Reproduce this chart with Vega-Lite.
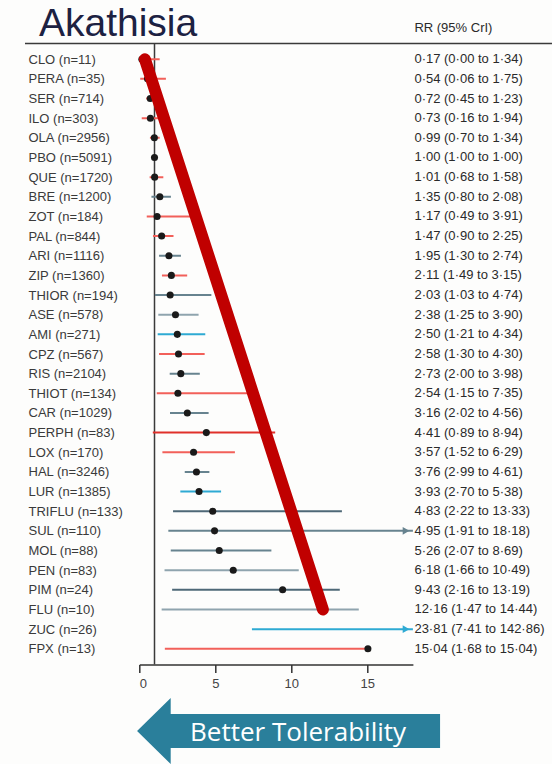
{
  "$schema": "https://vega.github.io/schema/vega-lite/v6.json",
  "autosize": {"type": "none"},
  "width": 273.6,
  "height": 621,
  "padding": {"left": 139.3, "top": 43.5, "right": 139.1, "bottom": 99.5},
  "background": "#fdfdfc",
  "config": {"view": {"stroke": null}, "font": "Liberation Sans"},
  "data": {"values": [
    {"drug": "CLO (n=11)", "est": 0.17, "lo": 0.00, "hi": 1.34, "rr": "0·17 (0·00 to 1·34)", "cat": "A"},
    {"drug": "PERA (n=35)", "est": 0.54, "lo": 0.06, "hi": 1.75, "rr": "0·54 (0·06 to 1·75)", "cat": "A"},
    {"drug": "SER (n=714)", "est": 0.72, "lo": 0.45, "hi": 1.23, "rr": "0·72 (0·45 to 1·23)", "cat": "A"},
    {"drug": "ILO (n=303)", "est": 0.73, "lo": 0.16, "hi": 1.94, "rr": "0·73 (0·16 to 1·94)", "cat": "A"},
    {"drug": "OLA (n=2956)", "est": 0.99, "lo": 0.70, "hi": 1.34, "rr": "0·99 (0·70 to 1·34)", "cat": "A"},
    {"drug": "PBO (n=5091)", "est": 1.00, "lo": 1.00, "hi": 1.00, "rr": "1·00 (1·00 to 1·00)", "cat": "A"},
    {"drug": "QUE (n=1720)", "est": 1.01, "lo": 0.68, "hi": 1.58, "rr": "1·01 (0·68 to 1·58)", "cat": "A"},
    {"drug": "BRE (n=1200)", "est": 1.35, "lo": 0.80, "hi": 2.08, "rr": "1·35 (0·80 to 2·08)", "cat": "C"},
    {"drug": "ZOT (n=184)", "est": 1.17, "lo": 0.49, "hi": 3.91, "rr": "1·17 (0·49 to 3·91)", "cat": "A"},
    {"drug": "PAL (n=844)", "est": 1.47, "lo": 0.90, "hi": 2.25, "rr": "1·47 (0·90 to 2·25)", "cat": "A"},
    {"drug": "ARI (n=1116)", "est": 1.95, "lo": 1.30, "hi": 2.74, "rr": "1·95 (1·30 to 2·74)", "cat": "C"},
    {"drug": "ZIP (n=1360)", "est": 2.11, "lo": 1.49, "hi": 3.15, "rr": "2·11 (1·49 to 3·15)", "cat": "A"},
    {"drug": "THIOR (n=194)", "est": 2.03, "lo": 1.03, "hi": 4.74, "rr": "2·03 (1·03 to 4·74)", "cat": "C"},
    {"drug": "ASE (n=578)", "est": 2.38, "lo": 1.25, "hi": 3.90, "rr": "2·38 (1·25 to 3·90)", "cat": "E"},
    {"drug": "AMI (n=271)", "est": 2.50, "lo": 1.21, "hi": 4.34, "rr": "2·50 (1·21 to 4·34)", "cat": "F"},
    {"drug": "CPZ (n=567)", "est": 2.58, "lo": 1.30, "hi": 4.30, "rr": "2·58 (1·30 to 4·30)", "cat": "A"},
    {"drug": "RIS (n=2104)", "est": 2.73, "lo": 2.00, "hi": 3.98, "rr": "2·73 (2·00 to 3·98)", "cat": "C"},
    {"drug": "THIOT (n=134)", "est": 2.54, "lo": 1.15, "hi": 7.35, "rr": "2·54 (1·15 to 7·35)", "cat": "A"},
    {"drug": "CAR (n=1029)", "est": 3.16, "lo": 2.02, "hi": 4.56, "rr": "3·16 (2·02 to 4·56)", "cat": "C"},
    {"drug": "PERPH (n=83)", "est": 4.41, "lo": 0.89, "hi": 8.94, "rr": "4·41 (0·89 to 8·94)", "cat": "B"},
    {"drug": "LOX (n=170)", "est": 3.57, "lo": 1.52, "hi": 6.29, "rr": "3·57 (1·52 to 6·29)", "cat": "A"},
    {"drug": "HAL (n=3246)", "est": 3.76, "lo": 2.99, "hi": 4.61, "rr": "3·76 (2·99 to 4·61)", "cat": "C"},
    {"drug": "LUR (n=1385)", "est": 3.93, "lo": 2.70, "hi": 5.38, "rr": "3·93 (2·70 to 5·38)", "cat": "F"},
    {"drug": "TRIFLU (n=133)", "est": 4.83, "lo": 2.22, "hi": 13.33, "rr": "4·83 (2·22 to 13·33)", "cat": "D"},
    {"drug": "SUL (n=110)", "est": 4.95, "lo": 1.91, "hi": 18.18, "rr": "4·95 (1·91 to 18·18)", "cat": "C"},
    {"drug": "MOL (n=88)", "est": 5.26, "lo": 2.07, "hi": 8.69, "rr": "5·26 (2·07 to 8·69)", "cat": "C"},
    {"drug": "PEN (n=83)", "est": 6.18, "lo": 1.66, "hi": 10.49, "rr": "6·18 (1·66 to 10·49)", "cat": "E"},
    {"drug": "PIM (n=24)", "est": 9.43, "lo": 2.16, "hi": 13.19, "rr": "9·43 (2·16 to 13·19)", "cat": "D"},
    {"drug": "FLU (n=10)", "est": 12.16, "lo": 1.47, "hi": 14.44, "rr": "12·16 (1·47 to 14·44)", "cat": "E"},
    {"drug": "ZUC (n=26)", "est": 23.81, "lo": 7.41, "hi": 142.86, "rr": "23·81 (7·41 to 142·86)", "cat": "F"},
    {"drug": "FPX (n=13)", "est": 15.04, "lo": 1.68, "hi": 15.04, "rr": "15·04 (1·68 to 15·04)", "cat": "A"}
  ]},
  "layer": [
    {
      "data": {"values": [{}]},
      "mark": {"type": "rule", "color": "#3a3a3a", "strokeWidth": 1.5},
      "encoding": {
        "x": {"datum": -7.52, "type": "quantitative", "scale": {"domain": [0, 18], "nice": false}},
        "x2": {"datum": 27.15},
        "y": {"value": 0}
      }
    },
    {
      "data": {"values": [{}]},
      "mark": {"type": "rule", "color": "#3a3a3a", "strokeWidth": 1.5},
      "encoding": {
        "x": {"datum": 1, "type": "quantitative", "scale": {"domain": [0, 18], "nice": false}}
      }
    },
    {
      "mark": {"type": "rule", "strokeWidth": 2, "clip": true},
      "encoding": {
        "x": {"field": "lo", "type": "quantitative", "scale": {"domain": [0, 18], "nice": false},
              "axis": {"values": [0, 5, 10, 15], "title": null, "grid": false, "domainColor": "#333333", "domainWidth": 1.5,
                       "tickColor": "#333333", "tickWidth": 1.5, "tickSize": 8, "labelFontSize": 13, "labelColor": "#444444",
                       "labelPadding": 5, "labelFont": "Liberation Sans"}},
        "x2": {"field": "hi"},
        "y": {"field": "drug", "type": "ordinal", "sort": null, "scale": {"type": "point", "padding": 0.8},
              "axis": {"title": null, "ticks": false, "domain": false, "grid": false, "labelAlign": "left",
                       "labelPadding": 111.3, "labelFontSize": 13, "labelColor": "#3a3a3a", "labelFont": "Liberation Sans"}},
        "color": {"field": "cat", "type": "nominal", "legend": null,
                  "scale": {"domain": ["A", "B", "C", "D", "E", "F"],
                            "range": ["#f2605a", "#e0302a", "#67838f", "#4e6877", "#8fa4ae", "#2eaad3"]}}
      }
    },
    {
      "transform": [{"filter": "datum.hi > 18"}],
      "mark": {"type": "point", "shape": "triangle-right", "filled": true, "size": 60, "opacity": 1},
      "encoding": {
        "x": {"datum": 17.55, "type": "quantitative", "scale": {"domain": [0, 18], "nice": false}},
        "y": {"field": "drug", "type": "ordinal", "sort": null},
        "color": {"field": "cat", "type": "nominal", "legend": null}
      }
    },
    {
      "transform": [{"filter": "datum.est <= 18"}],
      "mark": {"type": "circle", "size": 50, "color": "#1a1a1a", "opacity": 1},
      "encoding": {
        "x": {"field": "est", "type": "quantitative", "scale": {"domain": [0, 18], "nice": false}},
        "y": {"field": "drug", "type": "ordinal", "sort": null}
      }
    },
    {
      "mark": {"type": "text", "align": "left", "baseline": "middle", "dx": 1.5, "fontSize": 13, "color": "#2a2a2a", "font": "Liberation Sans"},
      "encoding": {
        "x": {"datum": 18, "type": "quantitative", "scale": {"domain": [0, 18], "nice": false}},
        "y": {"field": "drug", "type": "ordinal", "sort": null},
        "text": {"field": "rr"}
      }
    },
    {
      "data": {"values": [{"t": "RR (95% CrI)"}]},
      "mark": {"type": "text", "align": "left", "baseline": "middle", "dx": 1.5, "fontSize": 13, "color": "#2a2a2a", "font": "Liberation Sans"},
      "encoding": {
        "x": {"datum": 18, "type": "quantitative", "scale": {"domain": [0, 18], "nice": false}},
        "y": {"value": -16},
        "text": {"field": "t"}
      }
    },
    {
      "data": {"values": [{"t": "Akathisia"}]},
      "mark": {"type": "text", "align": "left", "baseline": "alphabetic", "fontSize": 39, "color": "#1c2142", "font": "Liberation Sans"},
      "encoding": {
        "x": {"datum": -6.6, "type": "quantitative", "scale": {"domain": [0, 18], "nice": false}},
        "y": {"value": -8},
        "text": {"field": "t"}
      }
    },
    {
      "data": {"values": [{"drug": "CLO (n=11)", "v": 0.37}, {"drug": "FLU (n=10)", "v": 12.08}]},
      "mark": {"type": "line", "color": "#c00000", "strokeWidth": 12, "strokeCap": "round"},
      "encoding": {
        "x": {"field": "v", "type": "quantitative", "scale": {"domain": [0, 18], "nice": false}},
        "y": {"field": "drug", "type": "ordinal", "sort": null}
      }
    },
    {
      "data": {"values": [{"t": "Better Tolerability"}]},
      "mark": {"type": "point", "filled": true, "opacity": 1, "strokeWidth": 0, "color": "#2a7f9b", "size": 91809,
               "shape": "M -1 0 L -0.778 -0.218 L -0.778 -0.112 L 1 -0.112 L 1 0.112 L -0.778 0.112 L -0.778 0.218 Z"},
      "encoding": {
        "x": {"datum": 9.82, "type": "quantitative", "scale": {"domain": [0, 18], "nice": false}},
        "y": {"value": 687.5}
      }
    },
    {
      "data": {"values": [{"t": "Better Tolerability"}]},
      "mark": {"type": "text", "align": "left", "baseline": "alphabetic", "fontSize": 26, "color": "#ffffff", "font": "Open Sans"},
      "encoding": {
        "x": {"datum": 3.34, "type": "quantitative", "scale": {"domain": [0, 18], "nice": false}},
        "y": {"value": 697},
        "text": {"field": "t"}
      }
    }
  ]
}
